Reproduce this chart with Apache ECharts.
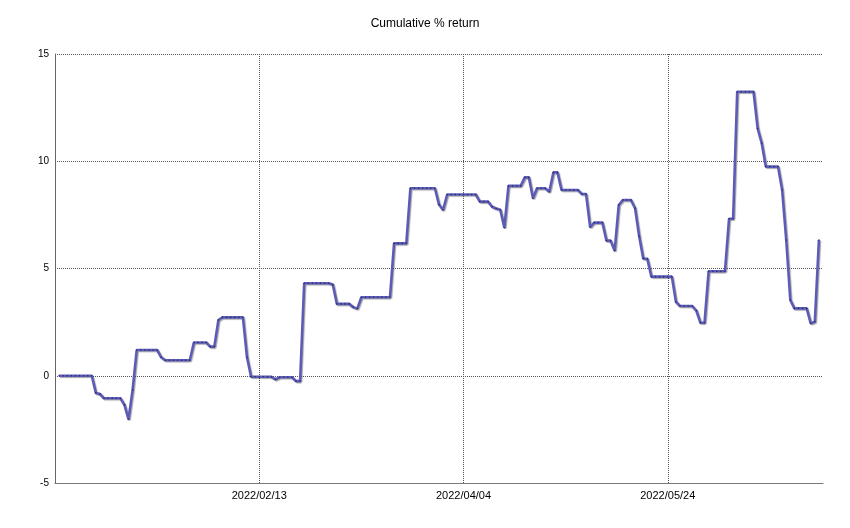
<!DOCTYPE html>
<html>
<head>
<meta charset="utf-8">
<title>Cumulative % return</title>
<script src="https://cdn.jsdelivr.net/npm/echarts@6/dist/echarts.min.js"></script>
<style>
    html, body { margin: 0; padding: 0; background: #fff; }
    #chart { width: 850px; height: 528px; }
</style>
</head>
<body>
<div id="chart"></div>
<script>
    'use strict';

    const DAY = 86400000;

    // first point is 2021/12/26, one value per calendar day up to 2022/06/30
    const startDate = Date.UTC(2021, 11, 26);
    const cumReturn = [
        0, 0, 0, 0, 0, 0, 0, 0, 0, -0.8,
        -0.85, -1.05, -1.05, -1.05, -1.05, -1.05, -1.36, -2.03, -0.66, 1.2,
        1.2, 1.2, 1.2, 1.2, 1.2, 0.86, 0.72, 0.72, 0.72, 0.72,
        0.72, 0.72, 0.72, 1.55, 1.55, 1.55, 1.55, 1.36, 1.36, 2.6,
        2.72, 2.72, 2.72, 2.72, 2.72, 2.72, 0.86, -0.05, -0.05, -0.05,
        -0.05, -0.05, -0.05, -0.17, -0.07, -0.07, -0.07, -0.07, -0.25, -0.25,
        4.31, 4.31, 4.31, 4.31, 4.31, 4.31, 4.31, 4.25, 3.35, 3.35,
        3.35, 3.35, 3.2, 3.13, 3.66, 3.66, 3.66, 3.66, 3.66, 3.66,
        3.66, 3.66, 6.17, 6.17, 6.17, 6.17, 8.74, 8.74, 8.74, 8.74,
        8.74, 8.74, 8.74, 7.98, 7.73, 8.45, 8.45, 8.45, 8.45, 8.45,
        8.45, 8.45, 8.45, 8.12, 8.12, 8.12, 7.88, 7.8, 7.74, 6.9,
        8.85, 8.85, 8.85, 8.85, 9.25, 9.25, 8.27, 8.74, 8.74, 8.74,
        8.58, 9.48, 9.48, 8.66, 8.66, 8.66, 8.66, 8.66, 8.47, 8.47,
        6.93, 7.14, 7.14, 7.14, 6.3, 6.3, 5.83, 7.96, 8.19, 8.19,
        8.19, 7.81, 6.5, 5.47, 5.45, 4.62, 4.62, 4.62, 4.62, 4.62,
        4.62, 3.45, 3.25, 3.25, 3.25, 3.25, 3.03, 2.47, 2.47, 4.87,
        4.87, 4.87, 4.87, 4.87, 7.32, 7.32, 13.24, 13.24, 13.24, 13.24,
        13.24, 11.53, 10.84, 9.75, 9.75, 9.75, 9.75, 8.66, 6.33, 3.53,
        3.14, 3.14, 3.14, 3.14, 2.44, 2.52, 6.33
    ];

    // x ticks every 50 days, counted from the axis min
    const xMin = Date.UTC(2021, 11, 25);
    const xMax = Date.UTC(2022, 6, 1);
    const xTickLabels = ['2022/02/13', '2022/04/04', '2022/05/24'];
    const yTicks = [-5, 0, 5, 10, 15];

    const pad2 = n => String(n).padStart(2, '0');
    const fmtDate = ts => {
        const d = new Date(ts);
        return `${d.getUTCFullYear()}/${pad2(d.getUTCMonth() + 1)}/${pad2(d.getUTCDate())}`;
    };

    const points = cumReturn.map((v, i) => [startDate + i * DAY, v]);

    const chart = echarts.init(document.getElementById('chart'), null, { renderer: 'canvas' });

    chart.setOption({
        backgroundColor: '#ffffff',
        animation: false,
        title: {
            text: 'Cumulative % return',
            left: 'center',
            top: 13,
            textStyle: { fontFamily: 'Liberation Sans', fontSize: 12, fontWeight: 'normal', color: '#000' }
        },
        grid: { left: 55, right: 27, top: 54, bottom: 45 },
        xAxis: {
            type: 'value',
            min: xMin,
            max: xMax,
            interval: 50 * DAY,
            axisLine: { show: true, onZero: false, lineStyle: { color: '#777', width: 1 } },
            axisTick: { show: false },
            axisLabel: {
                margin: 7,
                fontFamily: 'Liberation Sans',
                fontSize: 11,
                color: '#000',
                formatter: v => {
                    const s = fmtDate(v);
                    return xTickLabels.includes(s) ? s : '';
                }
            },
            splitLine: {
                show: true,
                showMinLine: false,
                showMaxLine: false,
                lineStyle: { type: 'dotted', color: '#555', width: 1 }
            }
        },
        yAxis: {
            type: 'value',
            min: yTicks[0],
            max: yTicks[yTicks.length - 1],
            interval: 5,
            axisLine: { show: true, onZero: false, lineStyle: { color: '#666', width: 1 } },
            axisTick: { show: false },
            axisLabel: {
                margin: 6,
                fontFamily: 'Liberation Sans',
                fontSize: 10,
                color: '#000'
            },
            splitLine: {
                show: true,
                showMinLine: false,
                lineStyle: { type: 'dotted', color: '#555', width: 1 }
            }
        },
        series: [{
            name: 'Cumulative % return',
            type: 'line',
            data: points,
            showSymbol: true,
            symbol: 'circle',
            symbolSize: 1.6,
            itemStyle: { color: '#2b2b6e', borderWidth: 0 },
            lineStyle: {
                color: '#5c5cb8',
                width: 2.6,
                shadowColor: 'rgba(0,0,0,0.35)',
                shadowBlur: 1,
                shadowOffsetX: 1,
                shadowOffsetY: 1
            },
            emphasis: { disabled: true }
        }]
    });
</script>
</body>
</html>
